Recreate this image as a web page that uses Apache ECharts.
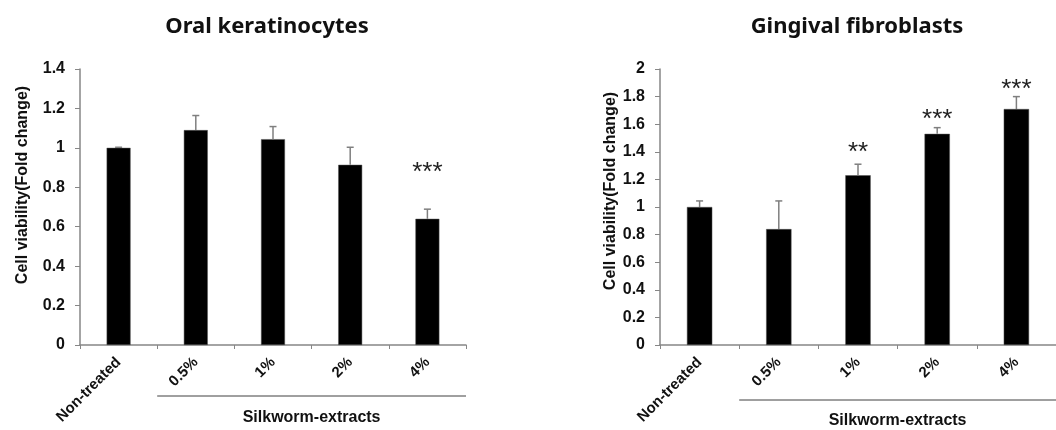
<!DOCTYPE html>
<html>
<head>
<meta charset="utf-8">
<script src="https://cdn.jsdelivr.net/npm/echarts@6/dist/echarts.min.js"></script>
<style>html,body{margin:0;padding:0;background:#fff}#c{width:1056px;height:430px}</style>
</head>
<body>
<div id="c"></div>
<script>
// ---- data ----
const categories = ['Non-treated', '0.5%', '1%', '2%', '4%'];
const groupLabel = 'Silkworm-extracts';
const yAxisTitle = 'Cell viability(Fold change)';

const titleLeft = 'Oral keratinocytes';
const meansLeft = [1.0, 1.09, 1.044, 0.914, 0.64];
const errLeft   = [0.003, 0.074, 0.064, 0.089, 0.049];
const starsLeft = ['', '', '', '', '***'];
const starYLeft = [null, null, null, null, 0.905];

const titleRight = 'Gingival fibroblasts';
const meansRight = [1.0, 0.84, 1.23, 1.53, 1.71];
const errRight   = [0.044, 0.204, 0.08, 0.045, 0.09];
const starsRight = ['', '', '**', '***', '***'];
const starYRight = [null, null, 1.437, 1.672, 1.889];

const yMaxLeft = 1.4, yMaxRight = 2, yStep = 0.2;

// ---- chart ----
const FONT = '"Liberation Sans", Arial, sans-serif';
const AXIS_COLOR = '#868686';
const chart = echarts.init(document.getElementById('c'));

function errSeries(idx, means, errs) {
  return {
    type: 'custom', xAxisIndex: idx, yAxisIndex: idx, z: 5, silent: true,
    data: means.map((m, i) => [i, m, errs[i]]),
    renderItem: function (params, api) {
      const i = api.value(0), m = api.value(1), e = api.value(2);
      const p0 = api.coord([i, m]);
      const p1 = api.coord([i, m + e]);
      const cap = 3.5;
      const st = {stroke: '#7f7f7f', lineWidth: 1.5};
      return {type: 'group', children: [
        {type: 'line', shape: {x1: p0[0], y1: p0[1], x2: p1[0], y2: p1[1]}, style: st},
        {type: 'line', shape: {x1: p1[0] - cap, y1: p1[1], x2: p1[0] + cap, y2: p1[1]}, style: st}
      ]};
    }
  };
}
function starSeries(idx, stars, ys) {
  const d = [];
  stars.forEach((s, i) => { if (s) d.push([i, ys[i], s]); });
  return {
    type: 'custom', xAxisIndex: idx, yAxisIndex: idx, z: 6, silent: true,
    data: d,
    renderItem: function (params, api) {
      const p = api.coord([api.value(0), api.value(1)]);
      return {type: 'text', x: p[0], y: p[1] + 6, style: {
        text: d[params.dataIndex][2], font: '26px ' + FONT, fill: '#222',
        align: 'center', verticalAlign: 'middle'}};
    }
  };
}
function bracketSeries(idx, lineOff, textOff) {
  return {
    type: 'custom', xAxisIndex: idx, yAxisIndex: idx, z: 6, silent: true, clip: false,
    data: [[1, categories.length - 1]],
    renderItem: function (params, api) {
      const a = api.value(0), b = api.value(1);
      const bw = api.size([1, 0])[0];
      const pa = api.coord([a, 0]), pb = api.coord([b, 0]);
      const x1 = pa[0] - bw / 2, x2 = pb[0] + bw / 2;
      const y = pa[1] + lineOff;
      return {type: 'group', children: [
        {type: 'line', shape: {x1: x1, y1: y, x2: x2, y2: y}, style: {stroke: '#404040', lineWidth: 1}},
        {type: 'text', x: (x1 + x2) / 2, y: pa[1] + textOff, style: {
          text: groupLabel, font: 'bold 16px ' + FONT, fill: '#111', align: 'center', verticalAlign: 'middle'}}
      ]};
    }
  };
}
function xAx(idx) {
  return {
    type: 'category', gridIndex: idx, data: categories, boundaryGap: true,
    axisLine: {lineStyle: {color: AXIS_COLOR, width: 1.5}},
    axisTick: {show: true, alignWithLabel: false, length: 4, lineStyle: {color: AXIS_COLOR}},
    axisLabel: {rotate: 45, margin: 15, fontFamily: FONT, fontWeight: 'bold', fontSize: 15, color: '#111', interval: 0},
    splitLine: {show: false}
  };
}
function yAx(idx, max, gap, pad) {
  return {
    type: 'value', gridIndex: idx, min: 0, max: max, interval: yStep,
    name: yAxisTitle, nameLocation: 'middle', nameGap: gap,
    nameTextStyle: {fontFamily: FONT, fontWeight: 'bold', fontSize: 16, color: '#111', padding: pad},
    axisLine: {show: true, lineStyle: {color: AXIS_COLOR, width: 1.5}},
    axisTick: {show: true, length: 5, lineStyle: {color: AXIS_COLOR}},
    axisLabel: {margin: 15, fontFamily: FONT, fontWeight: 'bold', fontSize: 16, color: '#111'},
    splitLine: {show: false}
  };
}

chart.setOption({
  animation: false,
  backgroundColor: '#fff',
  title: [
    {text: titleLeft, left: 262, top: 11, textAlign: 'center',
     textStyle: {fontFamily: '"Noto Sans", sans-serif', fontWeight: 'bold', fontSize: 22, color: '#111'}},
    {text: titleRight, left: 852, top: 11, textAlign: 'center',
     textStyle: {fontFamily: '"Noto Sans", sans-serif', fontWeight: 'bold', fontSize: 22, color: '#111'}}
  ],
  grid: [
    {left: 80, top: 69, width: 386, height: 276},
    {left: 660, top: 69, width: 404, height: 276}
  ],
  xAxis: [xAx(0), xAx(1)],
  yAxis: [yAx(0, yMaxLeft, 49, [0, 0, 0, 44]), yAx(1, yMaxRight, 41, [0, 0, 0, 32])],
  series: [
    {type: 'bar', xAxisIndex: 0, yAxisIndex: 0, data: meansLeft, barWidth: '31%',
     itemStyle: {color: '#000', borderColor: '#555', borderWidth: 0.5}},
    {type: 'bar', xAxisIndex: 1, yAxisIndex: 1, data: meansRight, barWidth: '32%',
     itemStyle: {color: '#000', borderColor: '#555', borderWidth: 0.5}},
    errSeries(0, meansLeft, errLeft),
    errSeries(1, meansRight, errRight),
    starSeries(0, starsLeft, starYLeft),
    starSeries(1, starsRight, starYRight),
    bracketSeries(0, 51, 73),
    bracketSeries(1, 55, 76)
  ]
});
</script>
</body>
</html>
